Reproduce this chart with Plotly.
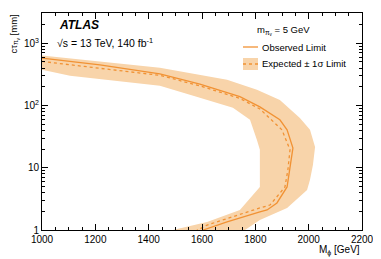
import plotly.graph_objects as go

# ---- data ----
obs_mass = [1000, 1217, 1442, 1592, 1742, 1817, 1892, 1919, 1941, 1930, 1919, 1881, 1844, 1817, 1694, 1604]
obs_ctau = [578, 451, 323, 221, 139, 95, 59, 40.6, 20.8, 9.2, 4.92, 2.72, 2.1, 1.95, 1.35, 1.0]

exp_mass = [1000, 1217, 1442, 1592, 1742, 1817, 1900, 1930, 1922, 1911, 1892, 1855, 1817, 1619, 1592, 1581]
exp_ctau = [510, 396, 305, 207, 130, 88, 40.6, 19.4, 9.2, 4.9, 3.94, 2.52, 2.26, 1.2, 1.04, 1.0]

band_outer_mass = [1000, 1217, 1442, 1694, 1806, 1892, 1967, 2005, 2024, 2016, 2005, 1994, 1919, 1817, 1761]
band_outer_ctau = [637, 513, 403, 259, 179, 123, 63, 40.6, 21.6, 11.1, 6.4, 4.4, 2.26, 1.45, 1.0]

band_inner_mass = [1000, 1105, 1442, 1592, 1716, 1780, 1806, 1817, 1817, 1780, 1742, 1619, 1491]
band_inner_ctau = [375, 300, 207, 133, 92, 59, 28, 19.4, 4.9, 3.27, 2.1, 1.35, 1.0]

x_ticks = [1000, 1200, 1400, 1600, 1800, 2000, 2200]
y_ticks = [1, 10, 100, 1000]
y_ticktext = ["1", "10", "10<sup>2</sup>", "10<sup>3</sup>"]

LINE = "rgb(241,146,52)"
BAND = "rgb(248,212,170)"
FONT = "Liberation Sans, Arial, sans-serif"

fig = go.Figure()

band_x = band_outer_mass + band_inner_mass[::-1]
band_y = band_outer_ctau + band_inner_ctau[::-1]
fig.add_trace(go.Scatter(x=band_x, y=band_y, fill="toself", fillcolor=BAND,
                         line=dict(width=0, color=BAND), mode="lines",
                         hoverinfo="skip", showlegend=False))
fig.add_trace(go.Scatter(x=exp_mass, y=exp_ctau, mode="lines",
                         line=dict(color=LINE, width=1.3, dash="dot"), showlegend=False))
fig.add_trace(go.Scatter(x=obs_mass, y=obs_ctau, mode="lines",
                         line=dict(color=LINE, width=1.3), showlegend=False))

minor_y = [m * 10 ** d for d in range(0, 4) for m in range(2, 10)]
minor_x = [v for v in range(1000, 2201, 50) if v % 200 != 0]

fig.update_xaxes(range=[1000, 2200], tickvals=x_ticks, ticks="inside", ticklen=6,
                 tickwidth=1, tickcolor="black", showline=True, linecolor="black",
                 linewidth=1, mirror="ticks", showgrid=False, zeroline=False,
                 tickfont=dict(family=FONT, size=10, color="black"),
                 minor=dict(tickvals=minor_x, ticks="inside", ticklen=3,
                            tickcolor="black", showgrid=False))
fig.update_yaxes(type="log", range=[0, 3.486], tickvals=y_ticks, ticktext=y_ticktext,
                 ticks="inside", ticklen=6, tickwidth=1, tickcolor="black",
                 showline=True, linecolor="black", linewidth=1, mirror="ticks",
                 showgrid=False, zeroline=False,
                 tickfont=dict(family=FONT, size=10, color="black"),
                 minor=dict(tickvals=minor_y, ticks="inside", ticklen=3,
                            tickcolor="black", showgrid=False))

# The page body has an 8px margin, so the figure is shrunk to fit the window.
OFF = 8
WIN_W, WIN_H = 381, 259
W, H = WIN_W - OFF, WIN_H - OFF
# plot area in window pixels: x 42..362, y 13..230
L, T = 42 - OFF, 13 - OFF
R = W - (362 - OFF)
B = H - (230 - OFF)
pw, ph = W - L - R, H - T - B


def px(x):
    return (x - 42) / pw


def py(y):
    return (230 - y) / ph


def note(x, y, text, size=9.5, xanchor="left", yanchor="middle", angle=0):
    return dict(xref="paper", yref="paper", x=x, y=y, text=text, showarrow=False,
                xanchor=xanchor, yanchor=yanchor, textangle=angle,
                font=dict(family=FONT, size=size, color="black"))


ann = [
    note(px(57), py(25), "<b><i>ATLAS</i></b>", size=12),
    note(px(55), py(43), "√s = 13 TeV, 140 fb<sup>-1</sup>", size=10.5),
    note(px(255), py(31), "m<sub>π<sub>v</sub></sub> = 5 GeV"),
    note(px(260), py(47), "Observed Limit"),
    note(px(260), py(64), "Expected ± 1σ Limit"),
    note(1, py(250), "M<sub>ϕ</sub> [GeV]", size=10, xanchor="right"),
    note(px(14), 1, "cτ<sub>π<sub>v</sub></sub> [mm]", size=9.5, xanchor="center",
         yanchor="top", angle=-90),
]

shapes = [
    dict(type="line", xref="paper", yref="paper", x0=px(243), x1=px(258), y0=py(47), y1=py(47),
         line=dict(color=LINE, width=1.3)),
    dict(type="rect", xref="paper", yref="paper", x0=px(243), x1=px(258), y0=py(58), y1=py(70),
         fillcolor=BAND, line=dict(width=0), layer="below"),
    dict(type="line", xref="paper", yref="paper", x0=px(243), x1=px(258), y0=py(64), y1=py(64),
         line=dict(color=LINE, width=1.3, dash="dot")),
]

fig.update_layout(width=W, height=H, margin=dict(l=L, r=R, t=T, b=B, autoexpand=False),
                  paper_bgcolor="white", plot_bgcolor="white",
                  annotations=ann, shapes=shapes, showlegend=False,
                  font=dict(family=FONT, size=10, color="black"))

fig.write_html("out.html")
